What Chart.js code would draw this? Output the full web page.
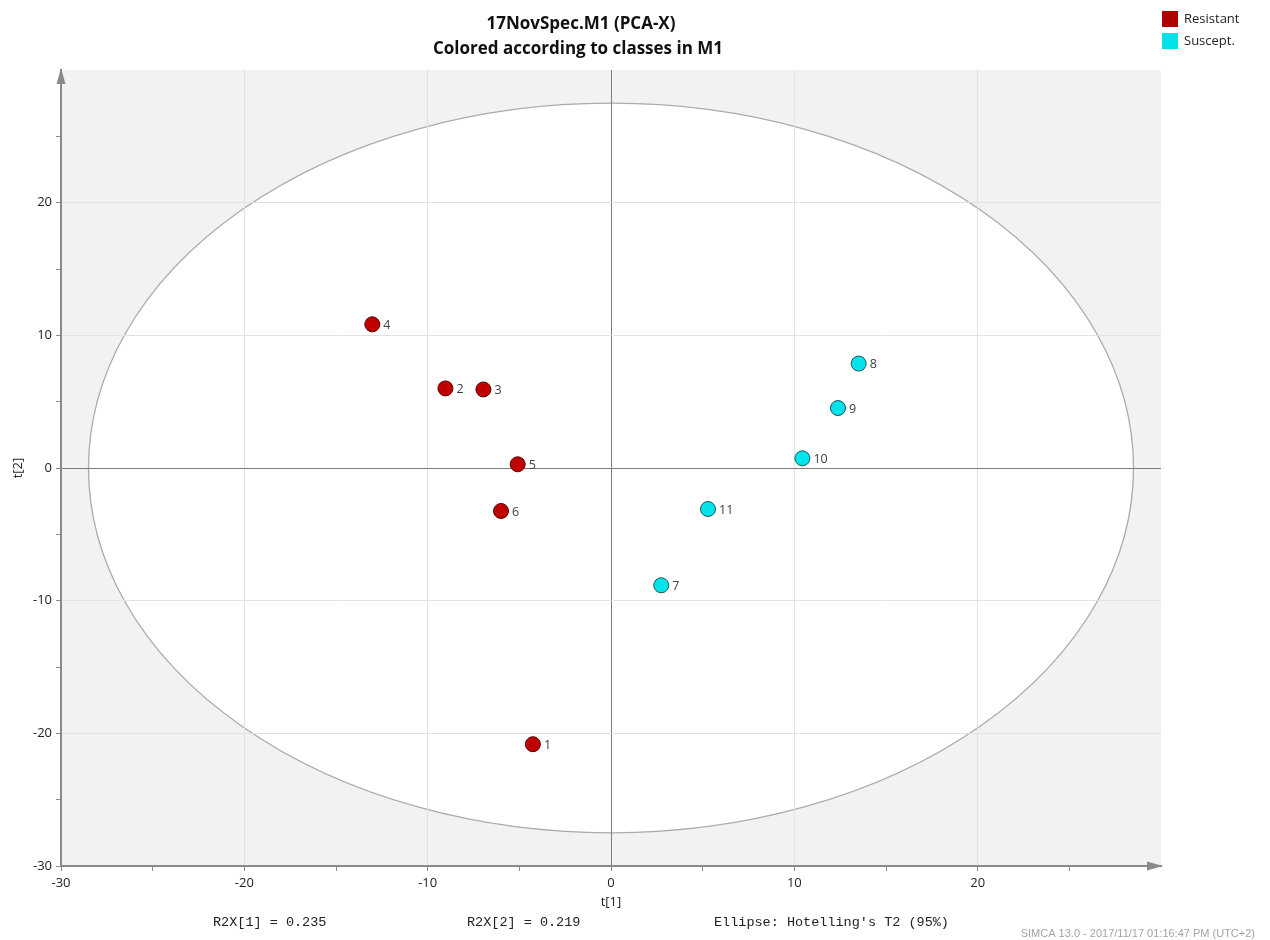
<!DOCTYPE html>
<html>
<head>
<meta charset="utf-8">
<title>17NovSpec.M1 (PCA-X)</title>
<script src="https://cdn.jsdelivr.net/npm/chart.js@4/dist/chart.umd.min.js"></script>
<style>
  html, body { margin: 0; padding: 0; background: #ffffff; }
  #wrap { width: 1270px; height: 940px; }
</style>
</head>
<body>
<div id="wrap"><canvas id="scores" width="1270" height="940"></canvas></div>
<script>
// Score plot data: t[1] / t[2] for each observation, split by class
const titleLines = ['17NovSpec.M1 (PCA-X)', 'Colored according to classes in M1'];
const classNames = ['Resistant', 'Suscept.'];
const classColors = ['#c00000', '#00e3ea'];
const classEdges = ['#5a0000', '#1d5555'];

const resistantIds = ['1', '2', '3', '4', '5', '6'];
const resistantT1 = [-4.26, -9.03, -6.96, -13.02, -5.09, -6.0];
const resistantT2 = [-20.82, 6.0, 5.92, 10.83, 0.28, -3.24];

const susceptIds = ['7', '8', '9', '10', '11'];
const susceptT1 = [2.74, 13.51, 12.38, 10.44, 5.29];
const susceptT2 = [-8.84, 7.87, 4.52, 0.73, -3.09];

const axisMin = -30;
const axisMax = 30;
const labelledTicks = [-30, -20, -10, 0, 10, 20];

// Hotelling's T2 (95%) ellipse semi-axes, in score units
const ellipseT1 = 28.5;
const ellipseT2 = 27.5;

const footerStats = ['R2X[1] = 0.235', 'R2X[2] = 0.219', "Ellipse: Hotelling's T2 (95%)"];
const stampText = 'SIMCA 13.0 - 2017/11/17 01:16:47 PM (UTC+2)';

const toPoints = (xs, ys) => xs.map((x, i) => ({ x: x, y: ys[i] }));

const AXIS_GREY = '#8a8a8a';
const UI_FONT = '"Open Sans", "Noto Sans", sans-serif';

function gridColorFor(v) {
  if (v === 0) return '#7c7c7c';
  if (v % 10 === 0 && Math.abs(v) < 30) return '#e2e2e2';
  return 'rgba(0,0,0,0)';
}

const decor = {
  id: 'scoreDecor',
  beforeDraw(chart) {
    const { ctx, chartArea: a, scales } = chart;
    ctx.save();
    ctx.fillStyle = '#ffffff';
    ctx.fillRect(0, 0, chart.width, chart.height);
    ctx.fillStyle = '#f2f2f2';
    ctx.fillRect(a.left, a.top, a.right - a.left, a.bottom - a.top);

    const cx = scales.x.getPixelForValue(0);
    const cy = scales.y.getPixelForValue(0);
    const rx = scales.x.getPixelForValue(ellipseT1) - cx;
    const ry = cy - scales.y.getPixelForValue(ellipseT2);
    ctx.beginPath();
    ctx.ellipse(cx, cy, rx, ry, 0, 0, Math.PI * 2);
    ctx.fillStyle = '#ffffff';
    ctx.fill();
    ctx.lineWidth = 1.3;
    ctx.strokeStyle = '#ababab';
    ctx.stroke();
    ctx.restore();
  },
  afterDatasetsDraw(chart) {
    const { ctx } = chart;
    const idLists = [resistantIds, susceptIds];
    ctx.save();
    ctx.font = '12.5px ' + UI_FONT;
    ctx.fillStyle = '#404040';
    ctx.textAlign = 'left';
    ctx.textBaseline = 'middle';
    chart.data.datasets.forEach((ds, di) => {
      const meta = chart.getDatasetMeta(di);
      meta.data.forEach((pt, i) => {
        ctx.fillText(idLists[di][i], pt.x + 11, pt.y + 1);
      });
    });
    ctx.restore();
  },
  afterDraw(chart) {
    const { ctx, chartArea: a } = chart;
    ctx.save();

    // axis arrow heads
    ctx.fillStyle = AXIS_GREY;
    ctx.beginPath();
    ctx.moveTo(a.left, a.top - 2);
    ctx.lineTo(a.left - 4.5, a.top + 14);
    ctx.lineTo(a.left + 4.5, a.top + 14);
    ctx.closePath();
    ctx.fill();
    ctx.beginPath();
    ctx.moveTo(a.right + 2, a.bottom);
    ctx.lineTo(a.right - 14, a.bottom - 4.5);
    ctx.lineTo(a.right - 14, a.bottom + 4.5);
    ctx.closePath();
    ctx.fill();

    // title
    ctx.fillStyle = '#111111';
    ctx.textAlign = 'center';
    ctx.textBaseline = 'alphabetic';
    ctx.font = 'bold 17px ' + UI_FONT;
    ctx.fillText(titleLines[0], 581, 29);
    ctx.fillText(titleLines[1], 578, 54);

    // legend
    ctx.textAlign = 'left';
    ctx.textBaseline = 'middle';
    ctx.font = '13px ' + UI_FONT;
    classNames.forEach((name, i) => {
      const y = 11 + i * 22;
      ctx.fillStyle = i === 0 ? '#b00000' : classColors[1];
      ctx.fillRect(1162, y, 16, 16);
      ctx.fillStyle = '#222222';
      ctx.fillText(name, 1184, y + 8);
    });

    // axis titles
    ctx.fillStyle = '#222222';
    ctx.textAlign = 'center';
    ctx.font = '13px ' + UI_FONT;
    ctx.fillText('t[1]', chart.scales.x.getPixelForValue(0), 902);
    ctx.save();
    ctx.translate(18, chart.scales.y.getPixelForValue(0));
    ctx.rotate(-Math.PI / 2);
    ctx.fillText('t[2]', 0, 0);
    ctx.restore();

    // model statistics
    ctx.textAlign = 'left';
    ctx.font = '13.5px "Liberation Mono", "DejaVu Sans Mono", monospace';
    ctx.fillStyle = '#222222';
    const footX = [213, 467, 714];
    footerStats.forEach((s, i) => ctx.fillText(s, footX[i], 922));

    // software stamp
    ctx.textAlign = 'right';
    ctx.font = '11px "Liberation Sans Narrow", "Liberation Sans", sans-serif';
    ctx.fillStyle = '#a3a3a3';
    ctx.fillText(stampText, 1255, 934, 240);

    ctx.restore();
  }
};

const axisCommon = (fitFn) => ({
  type: 'linear',
  min: axisMin,
  max: axisMax,
  afterFit: fitFn,
  afterBuildTicks(scale) {
    const t = [];
    for (let v = axisMin; v <= axisMax; v += 5) t.push({ value: v });
    scale.ticks = t;
  },
  ticks: {
    autoSkip: false,
    maxRotation: 0,
    padding: 4,
    color: '#222222',
    font: { family: UI_FONT, size: 13 },
    callback: (v) => (labelledTicks.includes(v) ? String(v) : '')
  },
  grid: {
    color: (c) => gridColorFor(c.tick ? c.tick.value : NaN),
    lineWidth: 1,
    drawTicks: true,
    tickLength: 5,
    tickColor: (c) => (c.tick && c.tick.value === axisMax ? 'rgba(0,0,0,0)' : AXIS_GREY),
    tickWidth: 1
  },
  border: { display: true, color: AXIS_GREY, width: 2 }
});

new Chart(document.getElementById('scores'), {
  type: 'scatter',
  data: {
    datasets: [
      {
        label: classNames[0],
        data: toPoints(resistantT1, resistantT2),
        backgroundColor: classColors[0],
        borderColor: classEdges[0],
        borderWidth: 1,
        pointRadius: 7.5,
        pointHoverRadius: 7.5
      },
      {
        label: classNames[1],
        data: toPoints(susceptT1, susceptT2),
        backgroundColor: classColors[1],
        borderColor: classEdges[1],
        borderWidth: 1,
        pointRadius: 7.5,
        pointHoverRadius: 7.5
      }
    ]
  },
  options: {
    responsive: false,
    animation: false,
    devicePixelRatio: 1,
    events: [],
    layout: { padding: { top: 70, right: 109, left: 0, bottom: 0 } },
    plugins: {
      legend: { display: false },
      title: { display: false },
      tooltip: { enabled: false }
    },
    scales: {
      x: Object.assign(axisCommon((s) => { s.height = 74; }), { position: 'bottom' }),
      y: Object.assign(axisCommon((s) => { s.width = 61; }), { position: 'left' })
    }
  },
  plugins: [decor]
});
</script>
</body>
</html>
